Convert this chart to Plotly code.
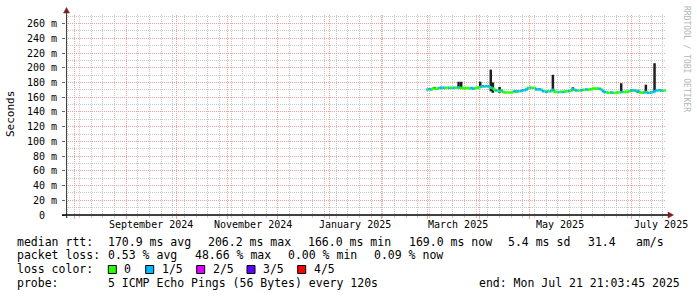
import plotly.graph_objects as go
import pandas as pd

# ---------------- data ----------------
x_start = "2024-07-26 21:03:45"
x_end = "2025-07-21 21:03:45"

month_starts = ["2024-08-01", "2024-09-01", "2024-10-01", "2024-11-01", "2024-12-01",
                "2025-01-01", "2025-02-01", "2025-03-01", "2025-04-01", "2025-05-01",
                "2025-06-01", "2025-07-01"]
week_tick0 = "2024-08-04"

month_label_dates = ["2024-09-16", "2024-11-16", "2025-01-16", "2025-03-19", "2025-05-19", "2025-07-19"]
month_labels = ["September 2024", "November 2024", "January 2025", "March 2025", "May 2025", "July 2025"]

y_tick_vals = [0, 0.02, 0.04, 0.06, 0.08, 0.10, 0.12, 0.14, 0.16, 0.18, 0.20, 0.22, 0.24, 0.26]
y_tick_text = ["0\u00a0\u00a0", "20 m", "40 m", "60 m", "80 m", "100 m", "120 m", "140 m", "160 m",
               "180 m", "200 m", "220 m", "240 m", "260 m"]

# median rtt (ms), one value per day starting 2025-02-28
median_start = "2025-02-28"
median_ms = [170.5, 170.5, 171.0, 170.5, 172.0, 172.0, 171.5, 172.0, 172.5, 173.0,
             173.0, 172.5, 173.0, 173.0, 172.5, 173.0, 172.5, 173.0, 173.0, 173.5,
             173.0, 172.5, 172.5, 172.0, 172.5, 172.5, 172.0, 172.5, 171.5, 172.0,
             172.5, 173.0, 173.5, 174.5, 175.0, 174.5, 175.0, 175.0, 174.0, 173.0,
             172.0, 170.0, 169.0, 169.0, 168.5, 169.0, 167.5, 166.5, 166.5, 166.5,
             166.5, 166.5, 167.0, 168.0, 167.5, 168.0, 168.0, 168.5, 169.5, 169.5,
             170.5, 173.0, 173.0, 173.0, 172.5, 172.5, 170.5, 170.5, 171.0, 170.0,
             168.0, 168.0, 167.5, 168.0, 168.0, 168.5, 170.0, 167.0, 167.0, 167.0,
             167.0, 167.5, 167.0, 167.5, 168.0, 168.0, 168.5, 169.0, 171.0, 170.0,
             169.0, 169.0, 169.0, 169.5, 170.0, 170.0, 170.5, 170.0, 170.5, 171.0,
             171.5, 172.0, 171.5, 172.0, 171.5, 170.5, 168.0, 167.0, 167.0, 166.0,
             166.0, 166.5, 166.0, 166.0, 166.0, 166.5, 166.5, 167.0, 167.0, 167.0,
             167.5, 167.5, 168.0, 169.0, 169.5, 169.0, 168.5, 168.0, 167.0, 166.5,
             166.0, 166.5, 167.0, 166.0, 166.0, 166.5, 167.0, 168.0, 169.0, 169.0,
             169.5, 169.0, 169.0, 169.0]
# lost pings out of 5 for each median sample
median_loss = [1, 0, 1, 0, 0, 0, 0, 0, 1, 1,
               1, 0, 0, 1, 0, 0, 1, 0, 0, 1,
               0, 0, 0, 0, 0, 0, 0, 1, 1, 0,
               0, 0, 0, 1, 1, 0, 1, 1, 0, 1,
               0, 0, 1, 0, 0, 1, 0, 0, 0, 0,
               0, 0, 0, 1, 0, 1, 0, 1, 1, 1,
               1, 0, 1, 0, 0, 0, 1, 1, 1, 0,
               1, 0, 1, 0, 1, 0, 1, 0, 0, 1,
               0, 0, 1, 0, 0, 1, 0, 0, 1, 0,
               1, 0, 0, 1, 0, 0, 1, 0, 0, 0,
               0, 0, 0, 0, 1, 0, 1, 1, 0, 0,
               0, 1, 0, 0, 0, 0, 0, 1, 0, 0,
               0, 0, 0, 1, 0, 1, 0, 1, 0, 0,
               0, 1, 0, 1, 1, 0, 1, 1, 1, 0,
               1, 1, 0, 0]

# smoke spikes (ping spread)
spike_dates = ["2025-03-05", "2025-03-19 10:00", "2025-03-21", "2025-04-01 10:00",
               "2025-04-07 18:00", "2025-04-09", "2025-04-13", "2025-05-15",
               "2025-05-27", "2025-06-25", "2025-07-05", "2025-07-09 19:00", "2025-07-15"]
spike_low_ms = [171.5, 172.0, 172.0, 173.0, 168.0, 166.0, 166.0, 170.0, 170.0, 167.0, 166.0, 166.0, 168.0]
spike_high_ms = [174.0, 181.0, 181.0, 181.0, 197.5, 180.0, 174.0, 190.5, 173.5, 179.0, 170.0, 177.0, 206.2]

loss_labels = ["0", "1/5", "2/5", "3/5", "4/5"]
loss_colors = ["#26ff00", "#00b8ff", "#dd00ff", "#5e00ff", "#ff0000"]

stats_rtt = ["170.9 ms avg", "206.2 ms max", "166.0 ms min", "169.0 ms now", "5.4 ms sd", "31.4", "am/s"]
stats_loss = ["0.53 % avg", "48.66 % max", "0.00 % min", "0.09 % now"]
probe_text = "5 ICMP Echo Pings (56 Bytes) every 120s"
end_text = "end: Mon Jul 21 21:03:45 2025"

# ---------------- layout helpers ----------------
L, R, T, B = 66, 666, 15, 215
W, H = R - L, B - T


def px_x(px):
    return (px - L) / W


def px_y(py):
    return (B - py) / H


MONO = "DejaVu Sans Mono"
RED_GRID = "#f0a0a0"
GRAY_GRID = "#c8c8c8"

fig = go.Figure()

# smoke spikes
sx, sy = [], []
for d, lo, hi in zip(spike_dates, spike_low_ms, spike_high_ms):
    sx += [d, d, None]
    sy += [lo / 1000, hi / 1000, None]
fig.add_trace(go.Scatter(x=sx, y=sy, mode="lines", line=dict(color="#1e1e1e", width=2.5),
                         hoverinfo="skip", showlegend=False))

# median line coloured by loss
med_dates = pd.date_range(median_start, periods=len(median_ms), freq="1D")
seg = {c: ([], []) for c in range(len(loss_colors))}
for i, (d, v, l) in enumerate(zip(med_dates, median_ms, median_loss)):
    nxt = med_dates[i + 1] if i + 1 < len(med_dates) else pd.Timestamp(x_end)
    prev = median_ms[i - 1] if i > 0 else v
    xs, ys = seg[l]
    xs += [d, d, nxt, None]
    ys += [prev / 1000, v / 1000, v / 1000, None]
for c, (xs, ys) in seg.items():
    if xs:
        fig.add_trace(go.Scatter(x=xs, y=ys, mode="lines",
                                 line=dict(color=loss_colors[c], width=2.5),
                                 hoverinfo="skip", showlegend=False))

ann = []
# month labels
for d, t in zip(month_label_dates, month_labels):
    ann.append(dict(x=d, xref="x", y=px_y(224.7), yref="paper", text=t, showarrow=False,
                    xanchor="center", yanchor="middle", font=dict(family=MONO, size=10, color="#000")))
# y title
ann.append(dict(x=px_x(10), y=px_y(114), xref="paper", yref="paper", text="Seconds", textangle=-90,
                showarrow=False, xanchor="center", yanchor="middle",
                font=dict(family=MONO, size=11, color="#000")))
# watermark
ann.append(dict(x=px_x(686), y=px_y(59), xref="paper", yref="paper", text="RRDTOOL / TOBI OETIKER",
                textangle=90, showarrow=False, xanchor="center", yanchor="middle",
                font=dict(family=MONO, size=8, color="#b4b4b4")))

FS = 11.5


def txt(s, px, py, anchor="left"):
    ann.append(dict(x=px_x(px), y=px_y(py), xref="paper", yref="paper", text=s, showarrow=False,
                    xanchor=anchor, yanchor="middle", font=dict(family=MONO, size=FS, color="#000")))


y1, y2, y3, y4 = 241.7, 255, 269, 282.7
txt("median rtt:", 15, y1)
for s, p in zip(stats_rtt, [106.3, 206.3, 305.7, 406.7, 505.7, 585.7, 634]):
    txt(s, p, y1)
txt("packet loss:", 15, y2)
for s, p in zip(stats_loss, [106.3, 192.5, 286, 372]):
    txt(s, p, y2)
txt("loss color:", 15, y3)
box_x = [108.3, 145.7, 196.7, 247, 297.7]
for lab, bx in zip(loss_labels, box_x):
    txt(lab, bx + 14, y3)
txt("probe:", 15, y4)
txt(probe_text, 106.3, y4)
txt(end_text, 681.5, y4, anchor="right")

shapes = []
for col, bx in zip(loss_colors, box_x):
    shapes.append(dict(type="rect", xref="paper", yref="paper", x0=px_x(bx), x1=px_x(bx + 8),
                       y0=px_y(273.5), y1=px_y(265.5), fillcolor=col, line=dict(color="#000", width=1)))
# axis lines
shapes.append(dict(type="line", xref="paper", yref="paper", x0=px_x(66.5), x1=px_x(66.5),
                   y0=px_y(218), y1=px_y(11), line=dict(color="#444", width=1), layer="above"))
shapes.append(dict(type="line", xref="paper", yref="paper", x0=px_x(62), x1=px_x(669),
                   y0=px_y(215), y1=px_y(215), line=dict(color="#000", width=1.5), layer="above"))
# arrow heads
shapes.append(dict(type="path", xref="paper", yref="paper",
                   path=f"M {px_x(63.5)} {px_y(13)} L {px_x(69.5)} {px_y(13)} L {px_x(66.5)} {px_y(7.5)} Z",
                   fillcolor="#7f1f1f", line=dict(color="#7f1f1f", width=0.5), layer="above"))
shapes.append(dict(type="path", xref="paper", yref="paper",
                   path=f"M {px_x(668)} {px_y(212)} L {px_x(668)} {px_y(218)} L {px_x(673.5)} {px_y(215)} Z",
                   fillcolor="#7f1f1f", line=dict(color="#7f1f1f", width=0.5), layer="above"))

fig.update_layout(
    width=697, height=297,
    margin=dict(l=L, r=697 - R, t=T, b=297 - B, pad=0),
    paper_bgcolor="#ffffff", plot_bgcolor="#ffffff",
    showlegend=False,
    annotations=ann, shapes=shapes,
    xaxis=dict(type="date", range=[x_start, x_end], tickmode="array", tickvals=month_starts,
               showticklabels=False, ticks="outside", ticklen=3, tickcolor=RED_GRID,
               showgrid=True, gridcolor=RED_GRID, griddash="1px,1px", gridwidth=1,
               zeroline=False, showline=False,
               minor=dict(tickmode="linear", tick0=week_tick0, dtick=7 * 86400000,
                          showgrid=True, gridcolor=GRAY_GRID, griddash="1px,1px",
                          ticks="outside", ticklen=2, tickcolor=GRAY_GRID)),
    yaxis=dict(range=[0, 0.2717], tickmode="array", tickvals=y_tick_vals, ticktext=y_tick_text,
               ticks="outside", ticklen=3, tickcolor="#666",
               tickfont=dict(family=MONO, size=10, color="#000"),
               showgrid=True, gridcolor=RED_GRID, griddash="1px,1px", gridwidth=1,
               zeroline=False, showline=False, ticklabelstandoff=3,
               minor=dict(tickmode="linear", tick0=0.01, dtick=0.02, showgrid=True,
                          gridcolor=GRAY_GRID, griddash="1px,1px")),
)

fig.write_html("out.html")
